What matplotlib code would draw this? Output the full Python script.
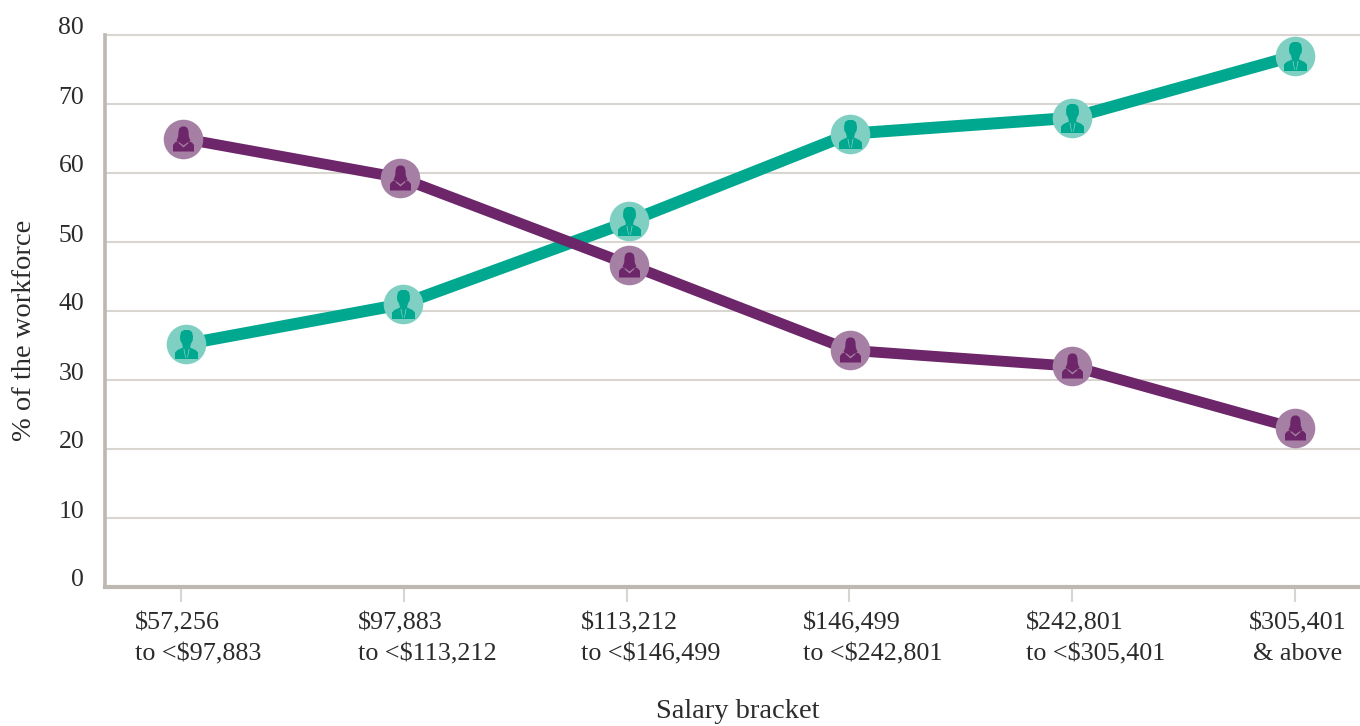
import matplotlib
matplotlib.use("Agg")
import matplotlib.pyplot as plt
import matplotlib.transforms as mtrans
from matplotlib.path import Path

# values
tick_labels = ["$57,256\nto <$97,883", "$97,883\nto <$113,212", "$113,212\nto <$146,499",
               "$146,499\nto <$242,801", "$242,801\nto <$305,401", "$305,401\n& above"]
y_ticks = [0, 10, 20, 30, 40, 50, 60, 70, 80]
men = [35.2, 41, 53, 65.7, 68, 77]
women = [65, 59.3, 46.7, 34.3, 32, 23]
# the markers sit slightly off the tick marks in the original
men_x = [0.022, 0.996, 2.013, 3.005, 4, 5]
women_x = [0.008, 0.985, 2.013, 3.005, 4, 5]

GREEN = "#00A88F"
GREEN_LIGHT = "#7FD0C2"
PURPLE = "#6D2669"
PURPLE_LIGHT = "#A680A4"
AXIS = "#BDB8B2"
GRID = "#D9D5D1"
TEXT = "#2B2B2B"
FONT = ["Liberation Serif", "DejaVu Serif"]

plt.rcParams["font.family"] = FONT


def make_icon(parts):
    verts, codes = [], []
    for part in parts:
        verts.extend(part)
        verts.append(part[0])
        codes.extend([Path.MOVETO] + [Path.LINETO] * (len(part) - 1) + [Path.CLOSEPOLY])
    return Path(verts, codes)


# icons are drawn in pixels around the circle centre, y up
# holes run the other way round so they stay open
woman_icon = make_icon([
    [(-1.5, 13), (1.5, 13), (4, 11.5), (5, 8), (5.3, 3), (7, -1.5), (3, -1.5),
     (-3, -1.5), (-7, -1.5), (-5.3, 3), (-5, 8), (-4, 11.5)],
    [(-10.5, -12), (-10.5, -5.5), (-8.5, -3), (-4, -1), (4, -1), (8.5, -3), (10.5, -5.5), (10.5, -12)],
    [(0, -6), (-4.5, -2.6), (-5.2, -3.4), (0, -8), (5.2, -3.4), (4.5, -2.6)],
])
man_icon = make_icon([
    [(-2.5, 14.5), (2.5, 14.5), (5.5, 12.5), (6.5, 8), (6.2, 4), (4.5, 1), (3.5, -3), (-3.5, -3),
     (-4.5, 1), (-6.2, 4), (-6.5, 8), (-5.5, 12.5)],
    [(-11.5, -14.5), (-11.5, -8), (-9, -5.5), (-3.5, -3), (3.5, -3), (9, -5.5), (11.5, -8), (11.5, -14.5)],
    [(-2.2, -4.2), (-3, -4.6), (-1.2, -13.5), (-0.6, -13.5)],
    [(2.2, -4.2), (0.6, -13.5), (1.2, -13.5), (3, -4.6)],
])

fig = plt.figure(figsize=(13.6, 7.26), dpi=100)
ax = fig.add_axes([105 / 1360, 1 - 587 / 726, (1360 - 105) / 1360, (587 - 35) / 726])
ax.set_xlim(-0.341, 5.292)
ax.set_ylim(0, 80)
ax.set_axisbelow(True)

ax.yaxis.grid(True, color=GRID, lw=1.5)
ax.xaxis.grid(False)

ax.plot(men_x, men, color=GREEN, lw=8.6, solid_capstyle="butt", zorder=3)
ax.plot(women_x, women, color=PURPLE, lw=7.8, solid_capstyle="butt", zorder=4)

# circle and person on top of the line
ax.plot(men_x, men, ls="none", marker="o", ms=28.5, color=GREEN_LIGHT, mew=0, zorder=5)
ax.plot(women_x, women, ls="none", marker="o", ms=28.5, color=PURPLE_LIGHT, mew=0, zorder=6)
ax.plot(men_x, men, ls="none", marker=man_icon, ms=2 * 14.5 * 0.72, color=GREEN, mew=0, zorder=7)
ax.plot(women_x, women, ls="none", marker=woman_icon, ms=2 * 13 * 0.72, color=PURPLE, mew=0, zorder=8)

for side in ["top", "right"]:
    ax.spines[side].set_visible(False)
ax.spines["left"].set_color(AXIS)
ax.spines["left"].set_linewidth(2.6)
ax.spines["bottom"].set_color(AXIS)
ax.spines["bottom"].set_linewidth(3)
ax.axhline(80, color=GRID, lw=1.5, clip_on=False)

ax.set_yticks(y_ticks)
ax.set_xticks(range(len(tick_labels)))
ax.set_xticklabels(tick_labels, fontsize=18.8, color=TEXT, linespacing=1.55)
ax.tick_params(axis="y", length=0, pad=15, labelsize=18.5, labelcolor=TEXT)
ax.tick_params(axis="x", length=11, width=1.5, color=GRID, pad=7)

# y labels sit a bit above their grid lines
up = mtrans.ScaledTranslation(0, 9 / 100, fig.dpi_scale_trans)
for lab in ax.get_yticklabels():
    lab.set_transform(lab.get_transform() + up)
# x labels start left of the tick
left = mtrans.ScaledTranslation(-46 / 100, 0, fig.dpi_scale_trans)
for lab in ax.get_xticklabels():
    lab.set_ha("left")
    lab.set_transform(lab.get_transform() + left)
ax.get_xticklabels()[-1].set_multialignment("center")

fig.text(25 / 1360, 1 - 330 / 726, "% of the workforce", rotation=90, ha="center", va="center",
         fontsize=20.5, color=TEXT)
fig.text(738 / 1360, 1 - 712 / 726, "Salary bracket", ha="center", va="center",
         fontsize=20.5, color=TEXT)

fig.savefig("out.png", dpi=100)
